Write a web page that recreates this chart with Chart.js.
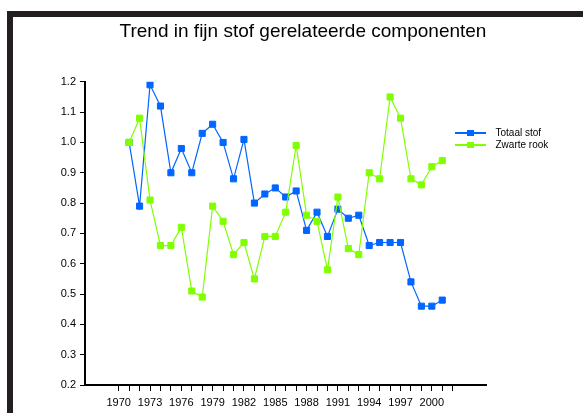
<!DOCTYPE html>
<html>
<head>
<meta charset="utf-8">
<script src="https://cdn.jsdelivr.net/npm/chart.js@4.4.0/dist/chart.umd.min.js"></script>
<style>
  html, body { margin: 0; padding: 0; background: #fff; overflow: hidden; }
  #frame { position: absolute; left: 7px; top: 11px; width: 700px; height: 500px;
           border-left: 6px solid #231f20; border-top: 6px solid #231f20; background: #fff; }
  #chart { position: absolute; left: 0; top: 0; }
</style>
</head>
<body>
<div id="frame"></div>
<canvas id="chart" width="583" height="413"></canvas>
<script>
const years = [1971, 1972, 1973, 1974, 1975, 1976, 1977, 1978, 1979, 1980,
               1981, 1982, 1983, 1984, 1985, 1986, 1987, 1988, 1989, 1990,
               1991, 1992, 1993, 1994, 1995, 1996, 1997, 1998, 1999, 2000, 2001];
const totaalStof = [1.00, 0.79, 1.19, 1.12, 0.90, 0.98, 0.90, 1.03, 1.06, 1.00,
                    0.88, 1.01, 0.80, 0.83, 0.85, 0.82, 0.84, 0.71, 0.77, 0.69,
                    0.78, 0.75, 0.76, 0.66, 0.67, 0.67, 0.67, 0.54, 0.46, 0.46, 0.48];
const zwarteRook = [1.00, 1.08, 0.81, 0.66, 0.66, 0.72, 0.51, 0.49, 0.79, 0.74,
                    0.63, 0.67, 0.55, 0.69, 0.69, 0.77, 0.99, 0.76, 0.74, 0.58,
                    0.82, 0.65, 0.63, 0.90, 0.88, 1.15, 1.08, 0.88, 0.86, 0.92, 0.94];

// tick marks on the year axis, and the ones that get a label
const xTickYears = [1970, 1971, 1972, 1973, 1974, 1975, 1976, 1977, 1978, 1979, 1980,
                    1981, 1982, 1983, 1984, 1985, 1986, 1987, 1988, 1989, 1990,
                    1991, 1992, 1993, 1994, 1995, 1996, 1997, 1998, 1999, 2000, 2001, 2002];
const xLabelYears = [1970, 1973, 1976, 1979, 1982, 1985, 1988, 1991, 1994, 1997, 2000];
const yTicks = [0.2, 0.3, 0.4, 0.5, 0.6, 0.7, 0.8, 0.9, 1.0, 1.1, 1.2];

const blue = "#0066ff";
const green = "#80ff00";

Chart.defaults.font.family = "'Liberation Sans', Arial, sans-serif";
Chart.defaults.color = "#000";

// small line + square marker for the legend
function legendIcon(color) {
  const c = document.createElement("canvas");
  c.width = 31;
  c.height = 8;
  const g = c.getContext("2d");
  g.fillStyle = color;
  g.fillRect(0, 3, 31, 2);
  g.fillRect(12, 1, 7, 6);
  return c;
}
const icons = [legendIcon(blue), legendIcon(green)];

// legend sits over the right end of the plot, not beside it
const legendSpot = {
  id: "legendSpot",
  afterLayout(chart) {
    const lg = chart.legend;
    lg.left = 448.5;
    lg.top = 126;
    lg.width = 125;
    lg.right = lg.left + lg.width;
    lg.bottom = lg.top + lg.height;
  }
};

const points = vals => years.map((y, i) => ({ x: y, y: vals[i] }));

new Chart(document.getElementById("chart"), {
  type: "line",
  data: {
    datasets: [
      {
        label: "Totaal stof",
        data: points(totaalStof),
        borderColor: blue,
        backgroundColor: blue,
        borderWidth: 1.2,
        pointStyle: "rect",
        pointRadius: 4.3,
        pointBorderWidth: 1,
        order: 1
      },
      {
        label: "Zwarte rook",
        data: points(zwarteRook),
        borderColor: green,
        backgroundColor: green,
        borderWidth: 1.2,
        pointStyle: "rect",
        pointRadius: 4.3,
        pointBorderWidth: 1,
        order: 0
      }
    ]
  },
  options: {
    responsive: false,
    animation: false,
    layout: { padding: { left: 23, right: 0, top: 0, bottom: 0 } },
    plugins: {
      title: {
        display: true,
        text: "Trend in fijn stof gerelateerde componenten",
        color: "#000",
        font: { size: 19, weight: "normal" },
        padding: { top: 20, bottom: 39 }
      },
      legend: {
        position: "right",
        align: "start",
        fullSize: false,
        maxWidth: 97,
        labels: {
          color: "#000",
          font: { size: 10 },
          padding: 2,
          usePointStyle: true,
          pointStyleWidth: 40,
          sort: (a, b) => a.datasetIndex - b.datasetIndex,
          generateLabels: chart => {
            const items = Chart.defaults.plugins.legend.labels.generateLabels(chart);
            items.forEach(it => { it.pointStyle = icons[it.datasetIndex]; });
            return items;
          }
        }
      },
      tooltip: { enabled: false }
    },
    scales: {
      x: {
        type: "linear",
        min: 1966.77,
        max: 2005.19,
        afterBuildTicks: s => { s.ticks = xTickYears.map(v => ({ value: v })); },
        afterFit: s => { s.height = 28; },
        grid: { drawOnChartArea: false, tickLength: 6, color: "#000" },
        border: { color: "#000", width: 2 },
        ticks: {
          autoSkip: false,
          maxRotation: 0,
          padding: 5,
          color: "#000",
          font: { size: 11 },
          callback: v => xLabelYears.includes(v) ? String(v) : ""
        }
      },
      y: {
        min: 0.2,
        max: 1.2,
        afterBuildTicks: s => { s.ticks = yTicks.map(v => ({ value: v })); },
        afterFit: s => { s.width = 62; },
        grid: { drawOnChartArea: false, tickLength: 5, color: "#000" },
        border: { color: "#000", width: 2 },
        ticks: {
          padding: 4,
          color: "#000",
          font: { size: 11 },
          callback: v => v.toFixed(1)
        }
      }
    }
  },
  plugins: [legendSpot]
});
</script>
</body>
</html>
